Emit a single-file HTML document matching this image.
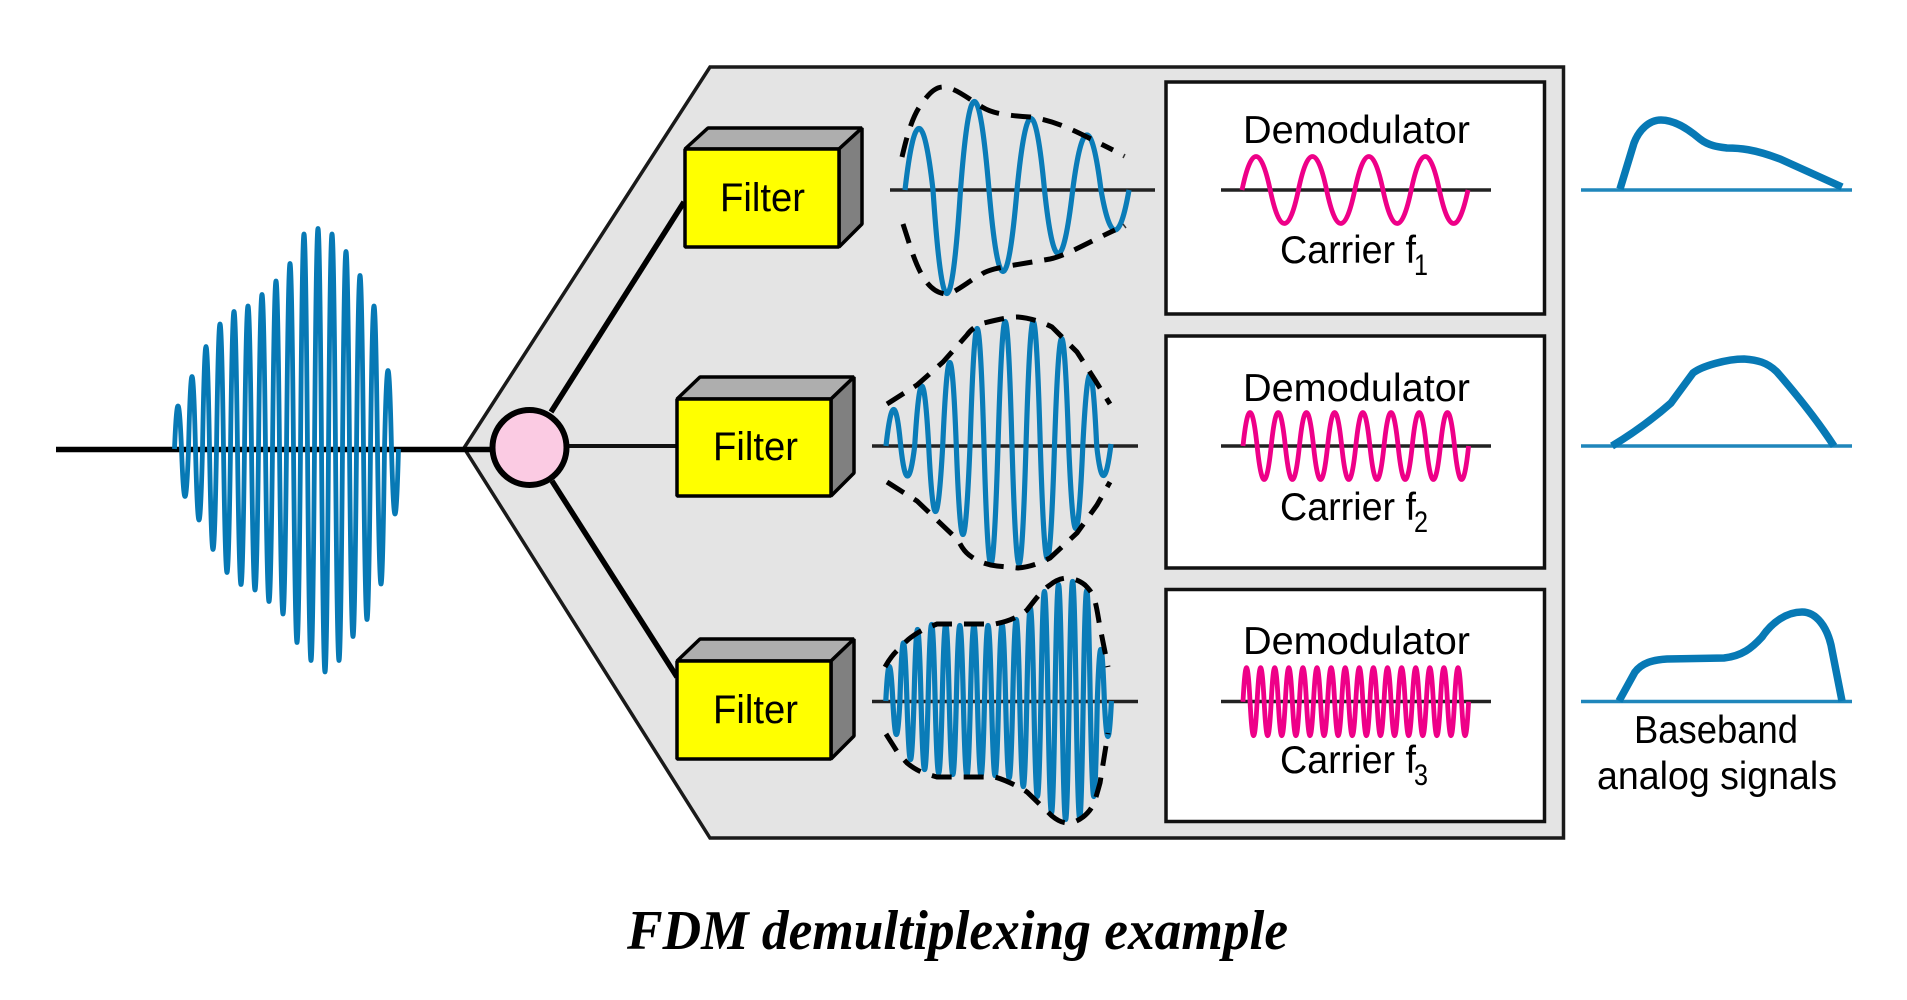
<!DOCTYPE html>
<html><head><meta charset="utf-8"><title>FDM demultiplexing example</title>
<style>html,body{margin:0;padding:0;background:#fff}svg{display:block}
text{font-family:"Liberation Sans",sans-serif;font-size:39px;fill:#000}</style></head>
<body>
<svg width="1907" height="1000" viewBox="0 0 1907 1000" xmlns="http://www.w3.org/2000/svg">
<rect width="1907" height="1000" fill="#fff"/>
<polygon points="464,448 710,67 1563.5,67 1563.5,838 710,838" fill="#e4e4e4" stroke="#1a1a1a" stroke-width="3.5"/>
<line x1="56" y1="449.5" x2="495" y2="449.5" stroke="#000" stroke-width="5.5"/>
<path d="M174.5 449 Q178 363 181.5 449 Q185 544 188.5 449 Q192 304 195.5 449 Q199 591 202.5 449 Q206 244 209.5 449 Q213 650 216.5 449 Q220 199 223.5 449 Q227 696 230.5 449 Q234 174 237.5 449 Q241 720 244.5 449 Q248 163 251.5 449 Q255 731 258.5 449 Q262 140 265.5 449 Q269 754 272.5 449 Q276 113 279.5 449 Q283 779 286.5 449 Q290 78 293.5 449 Q297 836 300.5 449 Q304 19 307.5 449 Q311 872 314.5 449 Q318 8 321.5 449 Q325 895 328.5 449 Q332 19 335.5 449 Q339 872 342.5 449 Q346 54 349.5 449 Q353 824 356.5 449 Q360 102 363.5 449 Q367 790 370.5 449 Q374 163 377.5 449 Q381 719 384.5 449 Q388 292 391.5 449 Q395 579 398.5 449" fill="none" stroke="#0779b5" stroke-width="4.8"/>
<line x1="551" y1="412" x2="684" y2="202" stroke="#000" stroke-width="5.5"/>
<line x1="552" y1="481" x2="677" y2="677" stroke="#000" stroke-width="5.5"/>
<line x1="560" y1="446" x2="677" y2="446" stroke="#111" stroke-width="4"/>
<ellipse cx="529.5" cy="447.5" rx="37" ry="37.5" fill="#fbcbe3" stroke="#000" stroke-width="6"/>

<g stroke="#000" stroke-width="3.5" stroke-linejoin="bevel">
<polygon points="685,149 708,128 862,128 839,149" fill="#aeaeae"/>
<polygon points="839,149 862,128 862,224 839,247" fill="#808080"/>
<rect x="685" y="149" width="154" height="98" fill="#ffff00"/>
<polygon points="677,399 700,377 854,377 831,399" fill="#aeaeae"/>
<polygon points="831,399 854,377 854,473 831,496" fill="#808080"/>
<rect x="677" y="399" width="154" height="97" fill="#ffff00"/>
<polygon points="677,661 700,639 854,639 831,661" fill="#aeaeae"/>
<polygon points="831,661 854,639 854,736 831,759" fill="#808080"/>
<rect x="677" y="661" width="154" height="98" fill="#ffff00"/>
</g>
<text x="720" y="211" style="font-size:40px" textLength="85" lengthAdjust="spacingAndGlyphs">Filter</text>
<text x="713" y="460" style="font-size:40px" textLength="85" lengthAdjust="spacingAndGlyphs">Filter</text>
<text x="713" y="723" style="font-size:40px" textLength="85" lengthAdjust="spacingAndGlyphs">Filter</text>

<g stroke="#222" stroke-width="3.5">
<line x1="890" y1="190" x2="1155" y2="190"/>
<line x1="872" y1="446" x2="1138" y2="446"/>
<line x1="872" y1="701.5" x2="1138" y2="701.5"/>
</g>
<g fill="none" stroke="#0a7cb8" stroke-width="5.2">
<path d="M905 190 Q919 67 933 190 Q947 397 960.5 190 Q974 13 989 190 Q1003 353 1017 190 Q1031 47 1044.5 190 Q1058 317 1072.7 190 Q1087 80 1101 190 Q1115 270 1129 190"/>
<path d="M886 446 Q894 373 900.7 446 Q907.3 506 914.7 446 Q922 326 928.7 446 Q935.3 577 942.7 446 Q950 279 956.3 446 Q962.7 623 970 446 Q977.3 211 984 446 Q990.7 682 998 446 Q1005.3 197 1012 446 Q1019 682 1026 446 Q1033.3 197 1040.3 446 Q1047.3 671 1054.5 446 Q1061.7 231 1068.7 446 Q1075.7 611 1082.8 446 Q1090 304 1096.7 446 Q1103.3 506 1111 444"/>
<path d="M885.8 701 Q889.3 632 892.85 701 Q896.4 768 899.9 701 Q903.4 585 906.95 701 Q910.5 818 914 701 Q917.5 558 921.05 701 Q924.6 838 928.1 701 Q931.6 548 935.15 701 Q938.7 845 942.2 701 Q945.7 548 949.25 701 Q952.8 848 956.3 701 Q959.8 550 963.35 701 Q966.9 850 970.4 701 Q973.9 550 977.45 701 Q981 850 984.5 701 Q988 550 991.55 701 Q995.1 850 998.6 701 Q1002.1 548 1005.65 701 Q1009.2 855 1012.7 701 Q1016.2 538 1019.75 701 Q1023.3 872 1026.8 701 Q1030.3 515 1033.85 701 Q1037.4 892 1040.9 701 Q1044.4 482 1047.95 701 Q1051.5 925 1055 701 Q1058.5 468 1062.05 701 Q1065.6 938 1069.1 701 Q1072.6 462 1076.15 701 Q1079.7 935 1083.2 701 Q1086.7 480 1090.25 701 Q1093.8 892 1097.3 701 Q1100.8 598 1104.35 701 Q1107.9 772 1111.4 701"/>
</g>
<g fill="none" stroke="#000" stroke-width="5" stroke-dasharray="20 12">
<path d="M902 157 C906 140 912 115 923 102 C930 92 936 87 943 87 C955 87 970 100 982 107 C990 112 1000 115 1030 117 C1050 120 1065 126 1087 137 L1113 150"/>
<path d="M903 224 C910 245 915 265 925 280 C932 290 940 294 947 294 C957 292 970 280 982 274 C990 268 1010 266 1050 259 C1065 256 1085 244 1115 230"/>
<path d="M887 404 L917 385 L943 362 L967 335 C972 328 978 325 984 323 C1000 319 1010 317 1018 317 C1030 318 1042 322 1052 327 L1077 352 L1095 380 L1110 404"/>
<path d="M887 482 L917 501 L958 540 C962 548 965 552 969 555 C978 562 988 565 997 566 L1018 568 C1030 567 1040 563 1050 558 L1077 533 L1097 505 L1110 482"/>
<path d="M885 667 C890 658 895 652 900 648 C908 638 918 632 927 628 L937 624 L995 624 C1005 622 1018 618 1027 610 C1035 600 1042 590 1050 585 C1056 580 1062 578 1068 578 C1075 579 1080 581 1085 585 C1090 590 1092 593 1094 598 C1097 607 1098 617 1100 627 L1108 667"/>
<path d="M886 734 L898 753 L907 763 C913 768 920 772 927 774 L937 777 L995 777 C1005 780 1018 786 1027 792 L1052 816 C1058 821 1063 823 1068 823 C1074 823 1079 820 1083 817 C1088 813 1091 809 1093 805 C1096 798 1098 790 1100 783 L1108 733"/>
</g>
<path d="M1123 158 L1125 154" stroke="#333" stroke-width="1.5"/>
<path d="M1123 224 L1126 228" stroke="#333" stroke-width="1.5"/>

<g fill="#fff" stroke="#111" stroke-width="3.5">
<rect x="1166" y="82" width="378.5" height="232"/>
<rect x="1166" y="336" width="378.5" height="232"/>
<rect x="1166" y="589.5" width="378.5" height="232"/>
</g>
<g stroke="#222" stroke-width="3.5">
<line x1="1221" y1="190" x2="1491" y2="190"/>
<line x1="1221" y1="446" x2="1491" y2="446"/>
<line x1="1221" y1="701.5" x2="1491" y2="701.5"/>
</g>
<g fill="none" stroke="#ee0088" stroke-width="4.8">
<path d="M1242 190 Q1256 123 1270.2 190 T1298.4 190 T1326.6 190 T1354.8 190 T1383 190 T1411.2 190 T1439.4 190 T1468 190"/>
<path d="M1243 446 Q1250 379 1257.1 446 T1271.2 446 T1285.3 446 T1299.4 446 T1313.5 446 T1327.6 446 T1341.7 446 T1355.8 446 T1369.9 446 T1384 446 T1398.1 446 T1412.2 446 T1426.3 446 T1440.4 446 T1454.5 446 T1468.6 446"/>
<path d="M1243 701.7 Q1246.5 633.7 1250.05 701.7 T1257.1 701.7 T1264.15 701.7 T1271.2 701.7 T1278.25 701.7 T1285.3 701.7 T1292.35 701.7 T1299.4 701.7 T1306.45 701.7 T1313.5 701.7 T1320.55 701.7 T1327.6 701.7 T1334.65 701.7 T1341.7 701.7 T1348.75 701.7 T1355.8 701.7 T1362.85 701.7 T1369.9 701.7 T1376.95 701.7 T1384 701.7 T1391.05 701.7 T1398.1 701.7 T1405.15 701.7 T1412.2 701.7 T1419.25 701.7 T1426.3 701.7 T1433.35 701.7 T1440.4 701.7 T1447.45 701.7 T1454.5 701.7 T1461.55 701.7 T1468.6 701.7"/>
</g>
<text x="1243" y="143" textLength="227" lengthAdjust="spacingAndGlyphs">Demodulator</text>
<text x="1243" y="401" textLength="227" lengthAdjust="spacingAndGlyphs">Demodulator</text>
<text x="1243" y="654" textLength="227" lengthAdjust="spacingAndGlyphs">Demodulator</text>
<text x="1280" y="263" textLength="136" lengthAdjust="spacingAndGlyphs">Carrier f</text>
<text x="1280" y="520" textLength="136" lengthAdjust="spacingAndGlyphs">Carrier f</text>
<text x="1280" y="773" textLength="136" lengthAdjust="spacingAndGlyphs">Carrier f</text>
<text x="1414" y="275" style="font-size:30px" textLength="14" lengthAdjust="spacingAndGlyphs">1</text>
<text x="1414" y="532" style="font-size:30px" textLength="14" lengthAdjust="spacingAndGlyphs">2</text>
<text x="1414" y="785" style="font-size:30px" textLength="14" lengthAdjust="spacingAndGlyphs">3</text>

<g stroke="#1f86bb" stroke-width="3.5">
<line x1="1581" y1="190" x2="1852" y2="190"/>
<line x1="1581" y1="446" x2="1852" y2="446"/>
<line x1="1581" y1="701.5" x2="1852" y2="701.5"/>
</g>
<g fill="none" stroke="#0779b5" stroke-width="7.5" transform="translate(-3,0)">
<path d="M1623 189 L1637 143 C1642 130 1652 120 1664 120 C1677 120 1690 128 1703 139 C1712 146 1722 147 1730 148 C1742 148 1757 149 1783 159 L1845 187"/>
<path d="M1615 446 C1630 437 1650 424 1674 403 L1696 373 C1705 366 1730 359 1747 359 C1760 360 1770 362 1780 372 C1800 395 1820 420 1837 446"/>
<path d="M1622 701 L1638 672 C1645 663 1655 660 1670 659 L1727 658 C1745 656 1755 648 1765 637 C1775 622 1790 612 1805 612 C1820 612 1830 628 1834 645 L1845 701"/>
</g>
<text x="1634" y="743" textLength="164" lengthAdjust="spacingAndGlyphs">Baseband</text>
<text x="1597" y="789" textLength="240" lengthAdjust="spacingAndGlyphs">analog signals</text>
<text x="627" y="949" style="font-family:'Liberation Serif',serif;font-size:56px;font-weight:bold;font-style:italic" textLength="661" lengthAdjust="spacingAndGlyphs">FDM demultiplexing example</text>
</svg>
</body></html>
